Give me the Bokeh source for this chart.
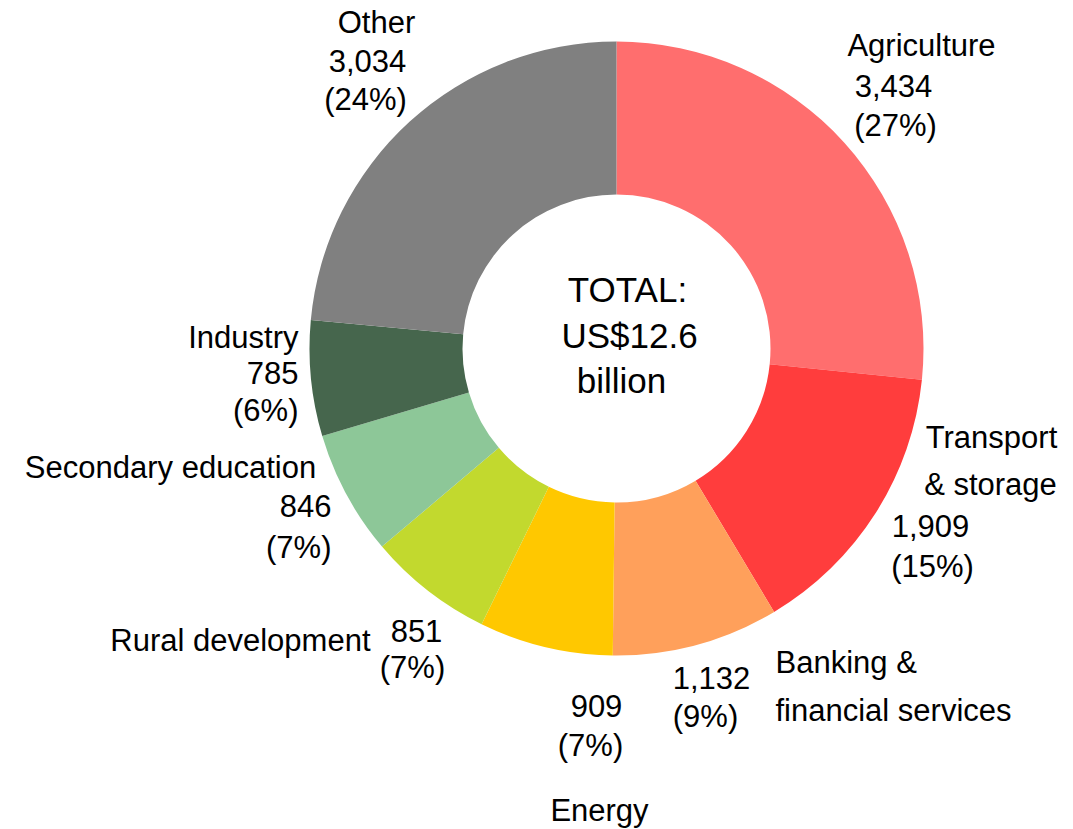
import math
from bokeh.plotting import figure
from bokeh.models import Range1d, ColumnDataSource
from bokeh.core.properties import value
from bokeh.embed import file_html
from bokeh.resources import INLINE

# ---- data ----
categories = ["Agriculture", "Transport & storage", "Banking & financial services",
              "Energy", "Rural development", "Secondary education", "Industry", "Other"]
values = [3434, 1909, 1132, 909, 851, 846, 785, 3034]
colors = ["#FF6E6E", "#FF3D3D", "#FFA05B", "#FFC800", "#C2D92E", "#8DC798", "#46664D", "#808080"]
center_lines = ["TOTAL:", "US$12.6", "billion"]

total = sum(values)
value_txt = [f"{v:,}" for v in values]
pct_txt = [f"({round(v / total * 100)}%)" for v in values]

# ---- layout (screen pixel coordinates, y negated) ----
CX, CY = 616, 348
R_IN, R_OUT = 154, 307
FONT = "Liberation Sans"
FS = "31px"
W, H = 1073, 829

cum = [0]
for v in values:
    cum.append(cum[-1] + v)
start = [math.pi / 2 - 2 * math.pi * cum[i] / total for i in range(len(values))]
end = [math.pi / 2 - 2 * math.pi * cum[i + 1] / total for i in range(len(values))]

src = ColumnDataSource(dict(start=start, end=end, color=colors, cat=categories))

p = figure(width=W, height=H, output_backend="svg", toolbar_location=None,
           x_range=Range1d(0, W), y_range=Range1d(-H, 0), min_border=0)
p.axis.visible = False
p.grid.visible = False
p.outline_line_color = None
p.background_fill_color = "white"
p.border_fill_color = "white"

p.annular_wedge(x=CX, y=-CY, inner_radius=R_IN, outer_radius=R_OUT,
                start_angle="start", end_angle="end", direction="clock",
                fill_color="color", line_color=None, source=src)

# label line placements: (text, x, y, align) per category
name_lines = {
    "Agriculture": [("Agriculture", 921, 45, "center")],
    "Transport & storage": [("Transport", 991, 437, "center"), ("& storage", 990, 484, "center")],
    "Banking & financial services": [("Banking &", 775, 662, "left"), ("financial services", 775, 710, "left")],
    "Energy": [("Energy", 599, 810, "center")],
    "Rural development": [("Rural development", 370, 640, "right")],
    "Secondary education": [("Secondary education", 170, 467, "center")],
    "Industry": [("Industry", 298, 337, "right")],
    "Other": [("Other", 376, 22, "center")],
}
num_pos = {
    "Agriculture": [(893, 85, "center"), (895, 125, "center")],
    "Transport & storage": [(930, 525, "center"), (932, 566, "center")],
    "Banking & financial services": [(711, 677, "center"), (705, 716, "center")],
    "Energy": [(596, 705, "center"), (590, 745, "center")],
    "Rural development": [(416, 630, "center"), (412, 667, "center")],
    "Secondary education": [(331, 505, "right"), (331, 547, "right")],
    "Industry": [(298, 372, "right"), (298, 410, "right")],
    "Other": [(367, 60, "center"), (365, 99, "center")],
}

tx, ty, tt, ta = [], [], [], []
for i, c in enumerate(categories):
    for (t, x, y, a) in name_lines[c]:
        tx.append(x); ty.append(-y); tt.append(t); ta.append(a)
    (x1, y1, a1), (x2, y2, a2) = num_pos[c]
    tx += [x1, x2]; ty += [-y1, -y2]; tt += [value_txt[i], pct_txt[i]]; ta += [a1, a2]

for align in ["left", "center", "right"]:
    idx = [k for k in range(len(tt)) if ta[k] == align]
    s = ColumnDataSource(dict(x=[tx[k] for k in idx], y=[ty[k] for k in idx], t=[tt[k] for k in idx]))
    p.text(x="x", y="y", text="t", source=s, text_font=value(FONT), text_font_size=FS,
           text_align=align, text_baseline="middle", text_color="black")

cs = ColumnDataSource(dict(x=[627, 629, 621], y=[-289, -335, -380], t=center_lines))
p.text(x="x", y="y", text="t", source=cs, text_font=value(FONT), text_font_size="35px",
       text_align="center", text_baseline="middle", text_color="black")

open("out.html", "w").write(file_html(p, INLINE))
